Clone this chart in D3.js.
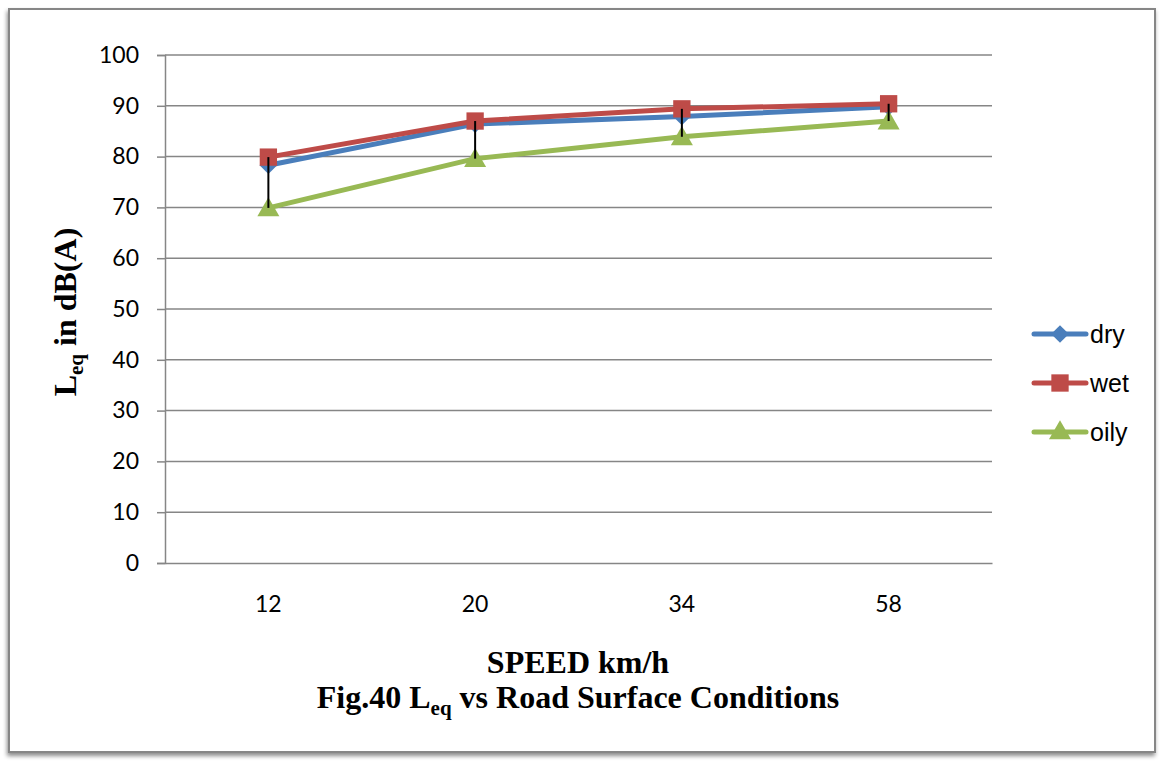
<!DOCTYPE html>
<html>
<head>
<meta charset="utf-8">
<script src="https://cdn.jsdelivr.net/npm/d3@7"></script>
<style>
  body { margin: 0; background: #fff; }
</style>
</head>
<body>
<div id="chart"></div>
<script>
// data
var speeds = ["12", "20", "34", "58"];
var dry  = [78.3, 86.4, 87.9, 89.8];
var wet  = [79.9, 87.0, 89.4, 90.4];
var oily = [69.9, 79.6, 83.9, 87.0];
var yTicks = [0, 10, 20, 30, 40, 50, 60, 70, 80, 90, 100];
var seriesNames = ["dry", "wet", "oily"];
var seriesColors = ["#4a7ebb", "#be4b48", "#98b954"];

var W = 1160, H = 761;
var plot = { left: 165, right: 992, top: 55, bottom: 563 };

var svg = d3.select("#chart").append("svg")
    .attr("width", W)
    .attr("height", H);

// outer frame with soft shadow
var defs = svg.append("defs");
var f = defs.append("filter").attr("id", "shadow")
    .attr("x", "-5%").attr("y", "-5%").attr("width", "110%").attr("height", "110%");
f.append("feDropShadow").attr("dx", -1).attr("dy", 3).attr("stdDeviation", 2)
    .attr("flood-color", "#000").attr("flood-opacity", 0.45);

svg.append("rect")
    .attr("x", 9).attr("y", 9)
    .attr("width", 1146).attr("height", 743)
    .attr("fill", "#fff")
    .attr("stroke", "#868686")
    .attr("stroke-width", 2)
    .attr("filter", "url(#shadow)");

// scales
var x = d3.scaleBand().domain(speeds).range([plot.left, plot.right]);
var y = d3.scaleLinear().domain([0, 100]).range([plot.bottom, plot.top]);
var cx = function(s) { return x(s) + x.bandwidth() / 2; };

// gridlines
svg.append("g")
    .selectAll("line")
    .data(yTicks.slice(1))
    .enter().append("line")
    .attr("x1", plot.left).attr("x2", plot.right)
    .attr("y1", function(d) { return y(d); })
    .attr("y2", function(d) { return y(d); })
    .attr("stroke", "#868686")
    .attr("stroke-width", 1.5);

// y axis
var yAxis = svg.append("g")
    .attr("transform", "translate(" + plot.left + ",0)")
    .call(d3.axisLeft(y).tickValues(yTicks).tickSize(8).tickPadding(18));
yAxis.select(".domain").attr("stroke", "#868686").attr("stroke-width", 1.5);
yAxis.selectAll(".tick line").attr("stroke", "#868686").attr("stroke-width", 1.5);
yAxis.selectAll("text")
    .attr("font-family", "Lato, 'Open Sans', sans-serif")
    .attr("font-size", 23)
    .attr("fill", "#000");

// x axis
var xAxis = svg.append("g")
    .attr("transform", "translate(0," + plot.bottom + ")")
    .call(d3.axisBottom(x).tickSize(0).tickPadding(33));
xAxis.select(".domain").attr("stroke", "#868686").attr("stroke-width", 1.5);
xAxis.selectAll("text")
    .attr("font-family", "Lato, 'Open Sans', sans-serif")
    .attr("font-size", 23)
    .attr("fill", "#000");

// series
var data = [dry, wet, oily];
var line = d3.line()
    .x(function(d, i) { return cx(speeds[i]); })
    .y(function(d) { return y(d); });

var symbols = [
  d3.symbol().type(d3.symbolDiamond2).size(200),
  d3.symbol().type(d3.symbolSquare).size(300),
  d3.symbol().type(d3.symbolTriangle).size(210)
];

data.forEach(function(vals, k) {
  svg.append("path")
      .datum(vals)
      .attr("d", line)
      .attr("fill", "none")
      .attr("stroke", seriesColors[k])
      .attr("stroke-width", 5)
      .attr("stroke-linejoin", "round")
      .attr("stroke-linecap", "round");
});

data.forEach(function(vals, k) {
  svg.append("g").selectAll("path")
      .data(vals)
      .enter().append("path")
      .attr("d", symbols[k])
      .attr("transform", function(d, i) {
        var dy = k === 2 ? 2 : 0;
        return "translate(" + cx(speeds[i]) + "," + (y(d) + dy) + ")";
      })
      .attr("fill", seriesColors[k]);
});

// high-low lines
svg.append("g").selectAll("line")
    .data(speeds)
    .enter().append("line")
    .attr("x1", function(s) { return cx(s); })
    .attr("x2", function(s) { return cx(s); })
    .attr("y1", function(s, i) { return y(d3.max([dry[i], wet[i], oily[i]])); })
    .attr("y2", function(s, i) { return y(d3.min([dry[i], wet[i], oily[i]])); })
    .attr("stroke", "#000")
    .attr("stroke-width", 2);

// legend
var legend = svg.append("g");
seriesNames.forEach(function(name, k) {
  var ly = 334 + k * 49;
  legend.append("line")
      .attr("x1", 1034).attr("x2", 1086)
      .attr("y1", ly).attr("y2", ly)
      .attr("stroke", seriesColors[k])
      .attr("stroke-width", 5)
      .attr("stroke-linecap", "round");
  legend.append("path")
      .attr("d", symbols[k])
      .attr("transform", "translate(1060," + (ly + (k === 2 ? 1 : 0)) + ")")
      .attr("fill", seriesColors[k]);
  legend.append("text")
      .attr("x", 1090).attr("y", ly + 9)
      .attr("font-family", "'Liberation Sans Narrow', 'Liberation Sans', sans-serif")
      .attr("font-size", 25)
      .attr("fill", "#000")
      .text(name);
});

// axis titles
var yt = svg.append("text")
    .attr("transform", "translate(76,312) rotate(-90)")
    .attr("text-anchor", "middle")
    .attr("font-family", "'Liberation Serif', serif")
    .attr("font-weight", "bold")
    .attr("font-size", 32)
    .attr("fill", "#000");
yt.append("tspan").text("L");
yt.append("tspan").attr("font-size", 21).attr("dy", 7).text("eq");
yt.append("tspan").attr("dy", -7).text("  in dB(A)");

svg.append("text")
    .attr("x", 578).attr("y", 673)
    .attr("text-anchor", "middle")
    .attr("font-family", "'Liberation Serif', serif")
    .attr("font-weight", "bold")
    .attr("font-size", 32)
    .attr("fill", "#000")
    .text("SPEED km/h");

var t2 = svg.append("text")
    .attr("x", 578).attr("y", 708)
    .attr("text-anchor", "middle")
    .attr("font-family", "'Liberation Serif', serif")
    .attr("font-weight", "bold")
    .attr("font-size", 32)
    .attr("fill", "#000");
t2.append("tspan").text("Fig.40 L");
t2.append("tspan").attr("font-size", 21).attr("dy", 7).text("eq");
t2.append("tspan").attr("dy", -7).text(" vs Road Surface Conditions");
</script>
</body>
</html>
